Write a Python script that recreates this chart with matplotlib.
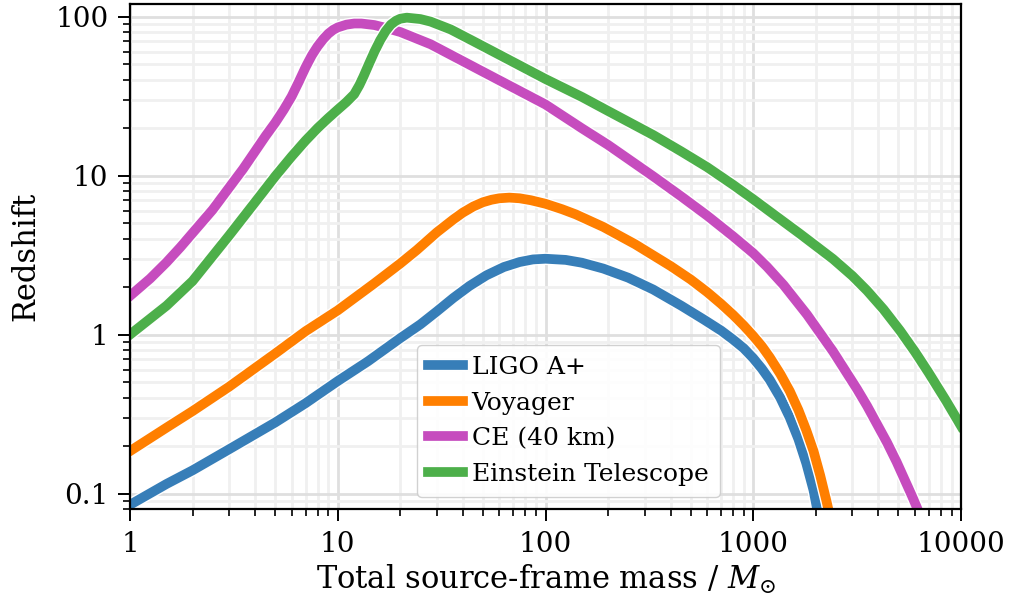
import matplotlib
matplotlib.use('Agg')
import matplotlib.pyplot as plt
import matplotlib.patheffects as pe
from matplotlib.ticker import LogLocator, FuncFormatter, NullFormatter

# valeurs (masse totale, redshift)
m_ligo = [1, 1.5, 2, 3, 5, 7, 10, 14, 20, 25, 30, 36, 43, 52, 63, 75, 87, 100, 125, 150, 190, 250, 330, 450, 580, 700, 800, 900, 1000, 1100, 1200, 1350, 1500, 1650, 1800, 1950, 2050]
z_ligo = [0.085, 0.115, 0.14, 0.19, 0.28, 0.37, 0.51, 0.68, 0.95, 1.16, 1.4, 1.7, 2.02, 2.36, 2.66, 2.86, 2.97, 3.0, 2.95, 2.83, 2.6, 2.28, 1.92, 1.52, 1.24, 1.06, 0.93, 0.82, 0.71, 0.61, 0.52, 0.4, 0.3, 0.22, 0.155, 0.105, 0.075]

m_voy = [1, 1.5, 2, 3, 5, 7, 10, 15, 20, 24, 30, 36, 40, 45, 50, 55, 60, 67, 75, 85, 100, 120, 140, 190, 270, 400, 500, 600, 700, 800, 900, 1000, 1100, 1200, 1350, 1500, 1650, 1800, 1950, 2100, 2250, 2400]
z_voy = [0.185, 0.26, 0.33, 0.47, 0.76, 1.05, 1.42, 2.1, 2.8, 3.4, 4.4, 5.3, 5.85, 6.4, 6.8, 7.05, 7.2, 7.27, 7.2, 7.0, 6.65, 6.15, 5.7, 4.75, 3.7, 2.7, 2.22, 1.85, 1.56, 1.33, 1.14, 0.98, 0.845, 0.72, 0.565, 0.44, 0.335, 0.25, 0.185, 0.13, 0.09, 0.062]

m_ce = [1, 1.25, 1.5, 1.75, 2, 2.5, 3, 3.5, 4, 4.5, 5, 5.5, 6, 6.5, 7, 7.5, 8, 8.5, 9, 9.5, 10, 11, 12, 13, 15, 17, 20, 28, 50, 100, 150, 200, 330, 450, 600, 800, 1000, 1165, 1400, 1815, 2420, 3150, 3530, 4400, 4900, 5800, 6150, 6400]
z_ce = [1.75, 2.25, 2.85, 3.55, 4.35, 6.1, 8.4, 11, 14.2, 17.8, 21.5, 26, 31.5, 39, 48, 57, 65, 72, 78, 82.5, 85.5, 89, 90.5, 90.5, 88.5, 85, 80, 67, 45, 28, 19.8, 15.6, 9.9, 7.4, 5.6, 4.15, 3.25, 2.67, 2.05, 1.335, 0.784, 0.457, 0.356, 0.21, 0.158, 0.097, 0.081, 0.071]

m_et = [1, 1.5, 2, 3, 4, 5, 6, 7, 8, 9, 10, 11, 12, 12.7, 13.3, 14, 15, 16, 17, 18, 19, 20, 21.5, 25, 28, 35, 45, 60, 100, 150, 200, 330, 450, 600, 800, 1000, 1200, 1680, 2420, 3000, 3530, 4240, 5085, 6000, 7000, 8500, 10000]
z_et = [1.0, 1.52, 2.17, 4.2, 6.8, 9.9, 13.2, 16.6, 19.9, 23.0, 26.0, 29.0, 32.5, 37, 42, 49, 60, 71, 81, 89, 94, 97, 98.5, 96.5, 93, 83, 70, 57.5, 40.5, 31.2, 25.5, 18, 14.2, 11.3, 8.75, 7.1, 5.95, 4.3, 2.99, 2.34, 1.89, 1.44, 1.06, 0.78, 0.573, 0.381, 0.266]

noms = ['LIGO A+', 'Voyager', 'CE (40 km)', 'Einstein Telescope']
couleurs = ['#377eb8', '#ff7f00', '#c64cbe', '#4daf4a']

plt.rcParams['font.family'] = 'DejaVu Serif'
plt.rcParams['mathtext.fontset'] = 'dejavuserif'

fig = plt.figure(figsize=(10.1, 6.1), dpi=100)
ax = fig.add_axes([0.1287, 0.1656, 0.8228, 0.8278])

donnees = [(m_ligo, z_ligo), (m_voy, z_voy), (m_ce, z_ce), (m_et, z_et)]
for (m, z), nom, c in zip(donnees, noms, couleurs):
    ax.plot(m, z, color=c, lw=7, label=nom, solid_joinstyle='round',
            path_effects=[pe.Stroke(linewidth=9, foreground='white'), pe.Normal()])

ax.set_xscale('log')
ax.set_yscale('log')
ax.set_xlim(1, 10000)
ax.set_ylim(0.08, 120)

fmt = FuncFormatter(lambda v, p: '{:g}'.format(v))
ax.xaxis.set_major_locator(LogLocator(base=10, numticks=10))
ax.yaxis.set_major_locator(LogLocator(base=10, numticks=10))
ax.xaxis.set_major_formatter(fmt)
ax.yaxis.set_major_formatter(fmt)
ax.xaxis.set_minor_locator(LogLocator(base=10, subs=range(2, 10), numticks=20))
ax.yaxis.set_minor_locator(LogLocator(base=10, subs=range(2, 10), numticks=20))
ax.xaxis.set_minor_formatter(NullFormatter())
ax.yaxis.set_minor_formatter(NullFormatter())

ax.grid(True, which='major', color='#dfdfdf', lw=2)
ax.grid(True, which='minor', color='#f0f0f0', lw=2)
ax.set_axisbelow(True)

for s in ax.spines.values():
    s.set_linewidth(1.6)
ax.tick_params(which='major', length=8.5, width=1.4, labelsize=20, pad=7)
ax.tick_params(which='minor', length=5, width=1.2)

ax.set_xlabel(r'Total source-frame mass / $M_{\odot}$', fontsize=22, labelpad=4)
ax.set_ylabel('Redshift', fontsize=22, labelpad=10)

leg = ax.legend(loc='lower left', bbox_to_anchor=(0.345, 0.024), borderaxespad=0,
                fontsize=18, handlelength=1.4, handletextpad=0.35, labelspacing=0.5,
                framealpha=0.9, edgecolor='#cccccc', borderpad=0.45)

fig.savefig('out.png', dpi=100)
